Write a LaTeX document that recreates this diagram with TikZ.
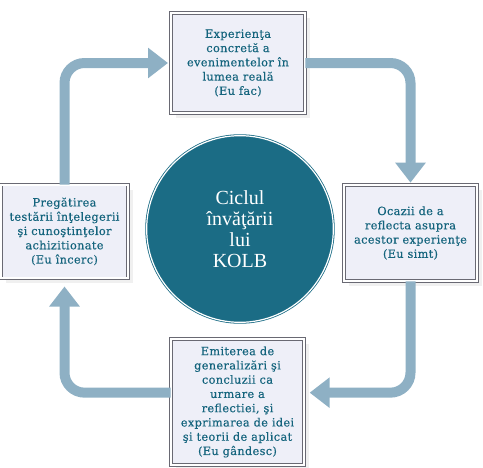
\documentclass[tikz,border=0pt]{standalone}
\usepackage{fontspec}
\usepackage{tikz}
\usetikzlibrary{arrows.meta,shadows}
\newfontfamily\boxfont[LetterSpace=3,FakeBold=0.4]{DejaVu Serif}
\newfontfamily\circfont{Liberation Serif}
\definecolor{kolbteal}{RGB}{27,108,133}
\definecolor{kolbtext}{RGB}{20,100,125}
\definecolor{kolbarrow}{RGB}{142,176,196}
\definecolor{boxfill}{RGB}{238,239,248}
\definecolor{boxline}{RGB}{105,105,115}
\tikzset{
  stagebox/.style  = {draw=boxline, line width=0.5pt, double=white, double distance=1.3pt,
                      fill=boxfill, align=center, inner sep=0.5pt, text=kolbtext,
                      font=\boxfont\fontsize{8.5pt}{10.7pt}\selectfont,
                      drop shadow={shadow xshift=3.5pt, shadow yshift=-3.5pt, opacity=0.12}},
  cyclenode/.style = {circle, fill=kolbteal, draw=kolbteal, line width=0.6pt,
                      double=white, double distance=0.9pt, minimum size=140pt,
                      align=center, text=white,
                      font=\circfont\fontsize{15pt}{15.8pt}\selectfont},
  cyclear/.style   = {-{Triangle[length=15pt,width=22pt]}, kolbarrow,
                      line width=7.5pt, rounded corners=15pt}
}
\begin{document}
\begin{tikzpicture}[x=0.75pt,y=-0.75pt]
  \useasboundingbox (0,0) rectangle (483,468);
  % stages of the cycle
  \node[stagebox, minimum width=100.5pt, minimum height=75pt] (exper) at (238,63)
    {Experienţa\\concretă a\\evenimentelor în\\lumea reală\\(Eu fac)};
  \node[stagebox, minimum width=99.75pt, minimum height=72pt] (reflect) at (410.5,233)
    {Ocazii de a\\reflecta asupra\\acestor experienţe\\(Eu simt)};
  \node[stagebox, minimum width=99.75pt, minimum height=94.5pt] (concept) at (237.5,402)
    {Emiterea de\\generalizări şi\\concluzii ca\\urmare a\\reflectiei, şi\\exprimarea de idei\\şi teorii de aplicat\\(Eu gândesc)};
  \node[stagebox, minimum width=95.25pt, minimum height=70pt] (test) at (64.5,231.5)
    {Pregătirea\\testării înţelegerii\\şi cunoştinţelor\\achizitionate\\(Eu încerc)};
  \node[cyclenode] (cycle) at (240,229) {Ciclul\\învăţării\\lui\\KOLB};
  % arrows round the cycle
  \draw[cyclear, shorten >=1.5pt] (exper.east) -| (reflect.north);
  \draw[cyclear, shorten >=4pt] (reflect.south) |- ([yshift=7pt]concept.east);
  \draw[cyclear, shorten >=6pt] ([yshift=7pt]concept.west) -| (test.south);
  \draw[cyclear, shorten >=2pt] (test.north) |- (exper.west);
\end{tikzpicture}
\end{document}
